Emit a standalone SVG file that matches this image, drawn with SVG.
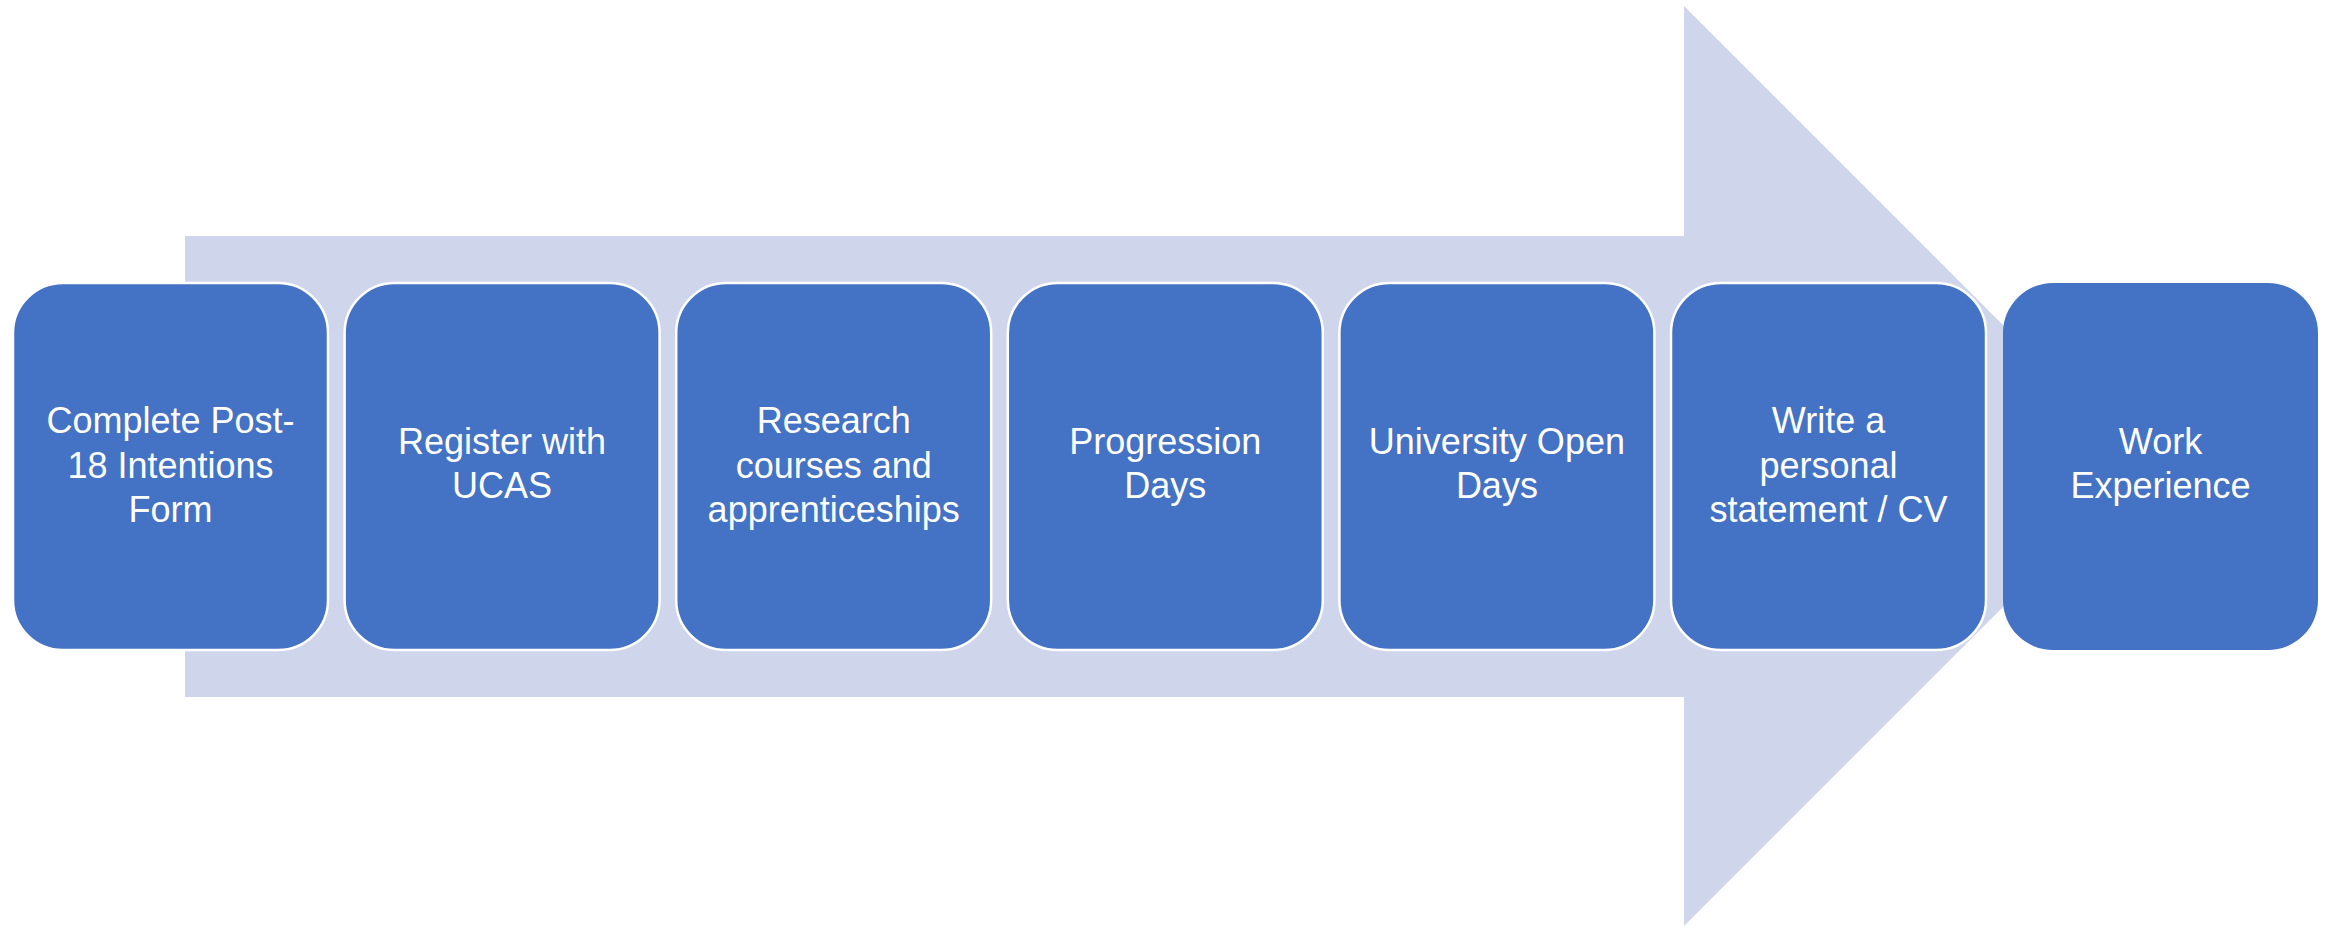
<svg xmlns="http://www.w3.org/2000/svg" width="2331" height="926" viewBox="0 0 2331 926">
<style>
.box{fill:#4472C4;stroke:#FFFFFF;stroke-width:2.5}
.last{fill:#4472C4;stroke:none}
.lbl{font-family:"Liberation Sans",Arial,sans-serif;font-size:36px;fill:#FFFFFF;text-anchor:middle}
</style>
<rect width="2331" height="926" fill="#FFFFFF"/>
<g id="connectors">
<polygon id="arrow" points="185,236 1684,236 1684,6 2144,466 1684,926 1684,697 185,697" fill="#CFD5EA"/>
</g>
<g id="n1"><rect class="box" x="13" y="283" width="315" height="367" rx="50" ry="50"/>
<text class="lbl" x="170.5" y="433">Complete Post-</text><text class="lbl" x="170.5" y="477.5">18 Intentions</text><text class="lbl" x="170.5" y="522">Form</text></g>
<g id="n2"><rect class="box" x="344.6" y="283" width="315" height="367" rx="50" ry="50"/>
<text class="lbl" x="502.1" y="454">Register with</text><text class="lbl" x="502.1" y="498">UCAS</text></g>
<g id="n3"><rect class="box" x="676.2" y="283" width="315" height="367" rx="50" ry="50"/>
<text class="lbl" x="833.7" y="433">Research</text><text class="lbl" x="833.7" y="477.5">courses and</text><text class="lbl" x="833.7" y="522">apprenticeships</text></g>
<g id="n4"><rect class="box" x="1007.8" y="283" width="315" height="367" rx="50" ry="50"/>
<text class="lbl" x="1165.3" y="454">Progression</text><text class="lbl" x="1165.3" y="498">Days</text></g>
<g id="n5"><rect class="box" x="1339.4" y="283" width="315" height="367" rx="50" ry="50"/>
<text class="lbl" x="1496.9" y="454">University Open</text><text class="lbl" x="1496.9" y="498">Days</text></g>
<g id="n6"><rect class="box" x="1671" y="283" width="315" height="367" rx="50" ry="50"/>
<text class="lbl" x="1828.5" y="433">Write a</text><text class="lbl" x="1828.5" y="477.5">personal</text><text class="lbl" x="1828.5" y="522">statement / CV</text></g>
<g id="n7"><rect class="last" x="2003" y="283" width="315" height="367" rx="50" ry="50"/>
<text class="lbl" x="2160.5" y="454">Work</text><text class="lbl" x="2160.5" y="498">Experience</text></g>
</svg>
